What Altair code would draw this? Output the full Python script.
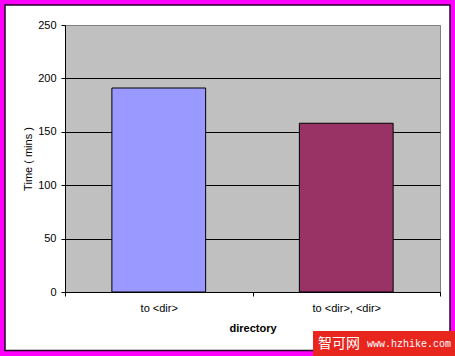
import altair as alt
import pandas as pd

categories = ["to <dir>", "to <dir>, <dir>"]
times = [191, 158]
bar_colors = ["#9999FF", "#993366"]
y_ticks = [0, 50, 100, 150, 200, 250]
x_title = "directory"
y_title = "Time ( mins )"
watermark_cn = "智可网"
watermark_url = "www.hzhike.com"

df = pd.DataFrame({"category": categories, "time": times})

W, H = 375, 267
PL, PT, PR, PB = 65, 25, 15, 64
FONT = "Liberation Sans"

bars = alt.Chart(df).mark_bar(
    stroke="black", strokeWidth=1, width=alt.RelativeBandSize(0.5)
).encode(
    x=alt.X(
        "category:N",
        sort=categories,
        scale=alt.Scale(paddingInner=0, paddingOuter=0),
        axis=alt.Axis(
            title=x_title,
            labelAngle=0,
            tickBand="extent",
            grid=False,
            tickSize=4,
            labelPadding=6,
            titlePadding=9,
            titleFontWeight="bold",
        ),
    ),
    y=alt.Y(
        "time:Q",
        scale=alt.Scale(domain=[0, 250], nice=False),
        axis=alt.Axis(
            values=y_ticks,
            title=y_title,
            grid=True,
            gridColor={"condition": {"test": "datum.value === 250", "value": "#808080"}, "value": "black"},
            gridOpacity=1,
            gridWidth=1,
            tickSize=4,
            labelPadding=5,
            titlePadding=4,
            titleFontWeight="normal",
        ),
    ),
    color=alt.Color("category:N", scale=alt.Scale(domain=categories, range=bar_colors), legend=None),
)

one = alt.Data(values=[{"k": 1}])

outer = alt.Chart(one).mark_rect(fill="transparent", stroke="#FF00FF", strokeWidth=10).encode(
    x=alt.value(-PL), x2=alt.value(W + PR), y=alt.value(-PT), y2=alt.value(H + PB)
)
inner = alt.Chart(one).mark_rect(fill="transparent", stroke="#220022", strokeWidth=1.5).encode(
    x=alt.value(-60), x2=alt.value(385), y=alt.value(-20), y2=alt.value(325.5)
)
wm_box = alt.Chart(one).mark_rect(fill="#E8261E").encode(
    x=alt.value(248), x2=alt.value(W + PR), y=alt.value(306), y2=alt.value(H + PB)
)
wm_cn = alt.Chart(one).mark_text(
    text=watermark_cn, font="Noto Sans CJK SC", fontSize=14, color="white", align="center", baseline="middle"
).encode(x=alt.value(274), y=alt.value(318.5))
wm_url = alt.Chart(one).mark_text(
    text=watermark_url, font="Liberation Mono", fontSize=10, color="white", align="left", baseline="middle"
).encode(x=alt.value(302), y=alt.value(319))

chart = alt.layer(bars, outer, inner, wm_box, wm_cn, wm_url).properties(
    width=W,
    height=H,
    autosize=alt.AutoSizeParams(type="none"),
    padding={"left": PL, "top": PT, "right": PR, "bottom": PB},
    background="white",
).configure_view(
    fill="#C0C0C0", stroke="#808080", strokeWidth=1
).configure_axis(
    domainColor="black",
    tickColor="black",
    labelFont=FONT,
    labelFontSize=11,
    labelColor="black",
    titleFont=FONT,
    titleFontSize=11,
    titleColor="black",
)

chart.save("out.html", embed_options={"renderer": "svg", "actions": False})
